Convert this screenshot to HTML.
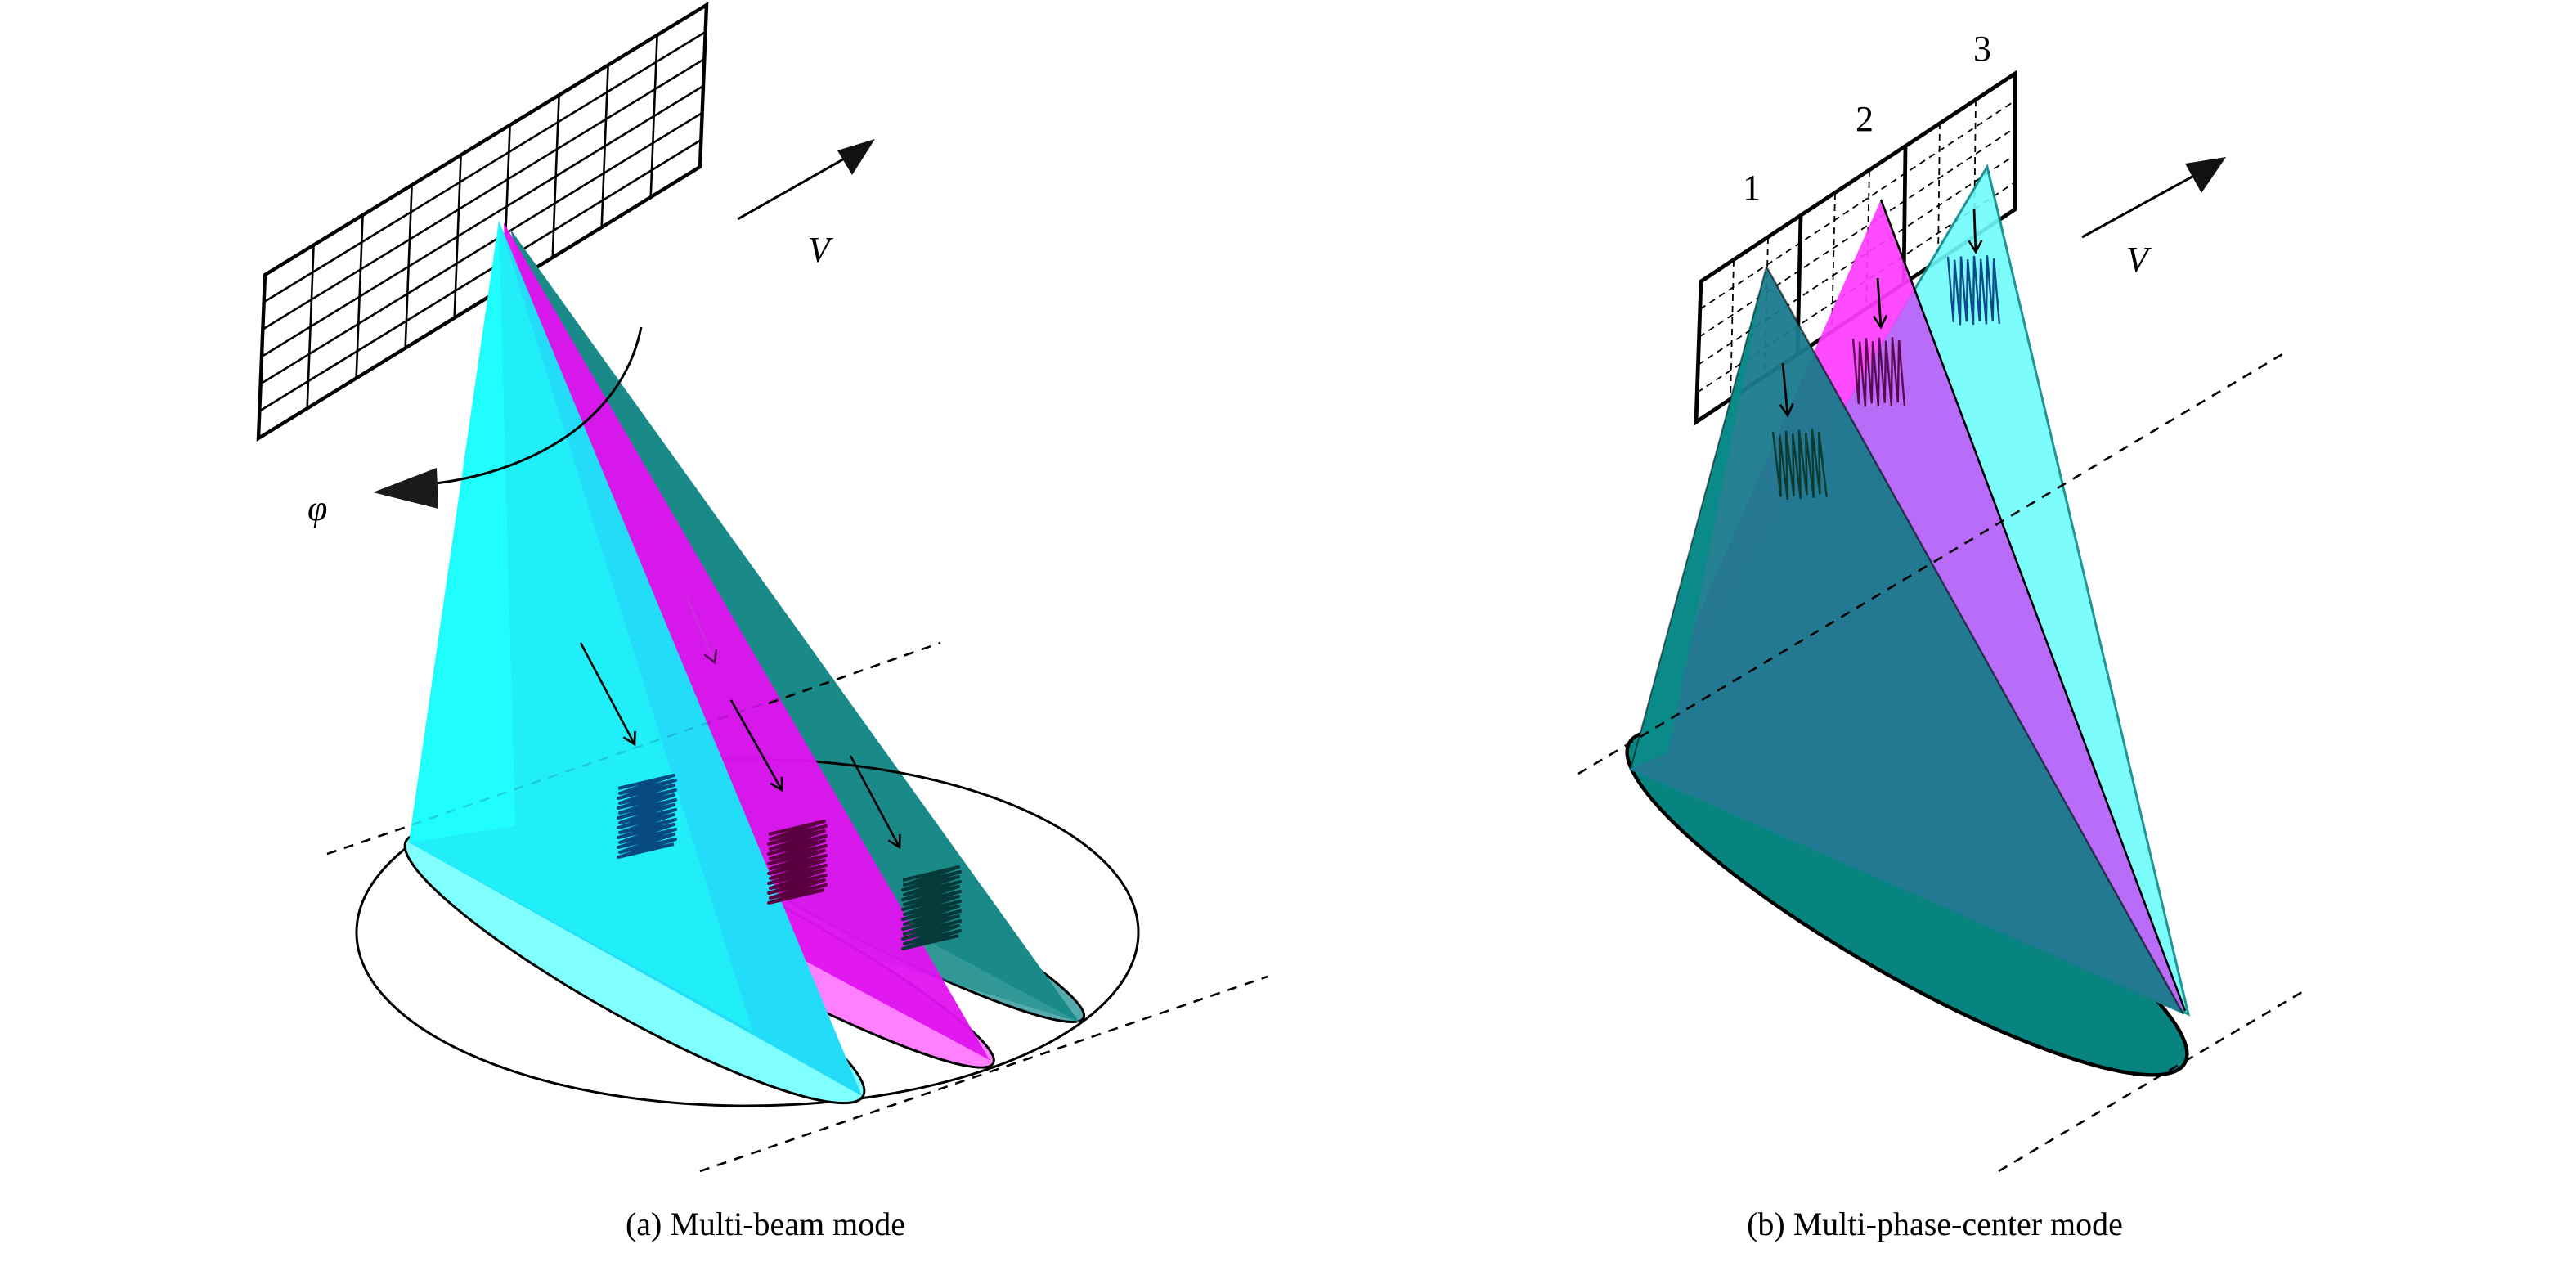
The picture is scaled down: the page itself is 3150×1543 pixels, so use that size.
<!DOCTYPE html>
<html><head><meta charset="utf-8"><style>
html,body{margin:0;padding:0;background:#fff}
svg{display:block}
text{font-family:"Liberation Serif",serif}
</style></head><body>
<svg width="3150" height="1543" viewBox="0 0 1575 771.5" xmlns="http://www.w3.org/2000/svg">
<defs>
<path id="zz" d="M0,0 L34,-8 L1,3 L35,-5 L0,6 L34,-2 L1,9 L35,1 L0,12 L34,4 L1,15 L35,7 L0,18 L34,10 L1,21 L35,13 L0,24 L34,16 L1,27 L35,19 L0,30 L34,22 L1,33 L35,25 L0,36 L34,28 L1,39 L35,31 L0,42 L34,34" fill="none" stroke-width="2" stroke-linejoin="round"/>
<path id="vz" d="M0,0 L2,40 L4,2 L6,42 L8,0 L10,40 L12,2 L14,42 L16,0 L18,40 L20,2 L22,42 L24,0 L26,40 L28,2 L30,42" fill="none" stroke-width="1.2"/>
<marker id="ah" markerWidth="10" markerHeight="10" refX="8" refY="5" orient="auto" markerUnits="userSpaceOnUse"><path d="M1,1 L8,5 L1,9" fill="none" stroke="#000" stroke-width="1.3"/></marker>
<clipPath id="cyc"><polygon points="1215,102 997,470 1338,620"/></clipPath>
</defs>

<!-- LEFT PANEL -->
<g stroke="#000" stroke-width="1.3" fill="none">
<polygon points="162,168 432,3 428,102 158,268" stroke-width="2.2"/>
<line x1="191.8" y1="149.8" x2="187.8" y2="249.8"/>
<line x1="221.8" y1="131.5" x2="217.8" y2="231.5"/>
<line x1="251.8" y1="113.2" x2="247.8" y2="213.2"/>
<line x1="281.8" y1="94.9" x2="277.8" y2="194.9"/>
<line x1="311.8" y1="76.6" x2="307.8" y2="176.6"/>
<line x1="341.8" y1="58.3" x2="337.8" y2="158.3"/>
<line x1="371.8" y1="40" x2="367.8" y2="140"/>
<line x1="401.8" y1="21.7" x2="397.8" y2="121.7"/>
<line x1="161.3" y1="184.7" x2="431.3" y2="19.5"/>
<line x1="160.7" y1="201.3" x2="430.7" y2="36"/>
<line x1="160" y1="218" x2="430" y2="52.5"/>
<line x1="159.3" y1="234.7" x2="429.3" y2="69"/>
<line x1="158.7" y1="251.3" x2="428.7" y2="85.5"/>
</g>

<ellipse cx="526" cy="551" rx="154" ry="21" transform="rotate(27.6 526 551)" fill="#55abab" stroke="#000" stroke-width="1.5"/>
<polygon points="312,140 390,480 660,625" fill="#268f8f"/>
<polygon points="312,140 450,560 660,625" fill="#0e8683" opacity="0.5"/>
<ellipse cx="457" cy="570" rx="239" ry="106" fill="none" stroke="#000" stroke-width="1.5"/>
<ellipse cx="463" cy="572" rx="164" ry="23" transform="rotate(28.4 463 572)" fill="#ff80ff" stroke="#000" stroke-width="1.5"/>
<polygon points="308,136 320,495 605,648" fill="#e012f0" opacity="0.95"/>
<ellipse cx="388" cy="592" rx="160" ry="30" transform="rotate(29.2 388 592)" fill="#80ffff" stroke="#000" stroke-width="1.5"/>
<polygon points="305,135 250,515 527,670" fill="#22dcf8"/>
<polygon points="305,135 250,515 460,630" fill="#1ffcfc" opacity="0.6"/>
<polygon points="305,135 250,515 315,505" fill="#20fdfd"/>
<line x1="200" y1="522" x2="575" y2="393" stroke="#000" stroke-width="1.2" stroke-dasharray="6,5" opacity="0.15"/>
<line x1="428" y1="716" x2="775" y2="597" stroke="#000" stroke-width="1.3" stroke-dasharray="6,5"/>
<line x1="200" y1="522" x2="250" y2="505" stroke="#000" stroke-width="1.3" stroke-dasharray="6,5"/>
<line x1="470" y1="430" x2="575" y2="393" stroke="#000" stroke-width="1.3" stroke-dasharray="6,5"/>

<line x1="420" y1="365" x2="437" y2="405" stroke="#c040d0" stroke-width="1" marker-end="url(#ah)" opacity="0.6"/>
<line x1="355" y1="393" x2="388" y2="455" stroke="#000" stroke-width="1.3" marker-end="url(#ah)"/>
<line x1="447" y1="428" x2="478" y2="483" stroke="#000" stroke-width="1.3" marker-end="url(#ah)"/>
<line x1="520" y1="462" x2="550" y2="518" stroke="#000" stroke-width="1.3" marker-end="url(#ah)"/>
<use href="#zz" transform="translate(378,482)" stroke="#064a80"/>
<use href="#zz" transform="translate(470,510)" stroke="#5a0040"/>
<use href="#zz" transform="translate(552,538)" stroke="#063a38"/>

<line x1="451" y1="134" x2="518" y2="96" stroke="#000" stroke-width="1.5"/>
<polygon points="535,85 512,92 521,107" fill="#111"/>
<text x="494" y="160" font-size="22" font-style="italic">V</text>
<path d="M392,200 C380,260 320,290 262,296" fill="none" stroke="#000" stroke-width="1.5"/>
<polygon points="228,301 267,286 268,311" fill="#1a1a1a"/>
<text x="188" y="318" font-size="22" font-style="italic">φ</text>

<text x="468" y="755" font-size="20" text-anchor="middle">(a) Multi-beam mode</text>

<!-- RIGHT PANEL -->
<polygon points="1040,172 1232,45 1232,128 1037,258" fill="#fff" stroke="none"/>
<g stroke="#000" stroke-width="0.9" stroke-dasharray="4,3" fill="none">
<line x1="1060" y1="159" x2="1058" y2="244"/>
<line x1="1081" y1="145" x2="1079" y2="230"/>
<line x1="1122" y1="118" x2="1120" y2="203"/>
<line x1="1143" y1="104" x2="1141" y2="189"/>
<line x1="1186" y1="75" x2="1185" y2="159"/>
<line x1="1208" y1="61" x2="1207" y2="144"/>
<line x1="1039.4" y1="189" x2="1232" y2="61.6"/>
<line x1="1038.8" y1="206" x2="1232" y2="78.2"/>
<line x1="1038.2" y1="223" x2="1232" y2="94.8"/>
<line x1="1037.6" y1="240" x2="1232" y2="111.4"/>
</g>
<g stroke="#000" stroke-width="2.4" fill="none">
<polygon points="1040,172 1232,45 1232,128 1037,258"/>
<line x1="1101" y1="132" x2="1099" y2="216"/>
<line x1="1165" y1="89" x2="1164" y2="173"/>
</g>
<text x="1071" y="122" font-size="22" text-anchor="middle">1</text>
<text x="1140" y="80" font-size="22" text-anchor="middle">2</text>
<text x="1212" y="37" font-size="22" text-anchor="middle">3</text>

<ellipse cx="1166" cy="552" rx="196" ry="44" transform="rotate(30 1166 552)" fill="#088480" stroke="#000" stroke-width="2.2"/>
<polygon points="1215,102 997,470 1338,620" fill="#70fcfc" opacity="0.9" stroke="#0a8a8a" stroke-width="1.5"/>
<polygon points="1150,122 997,470 1336,618" fill="#ff3cff" opacity="0.92"/>
<polygon points="1150,122 997,470 1336,618" fill="#b86cf8" clip-path="url(#cyc)"/>
<line x1="1150" y1="122" x2="1336" y2="618" stroke="#000" stroke-width="1.3"/>
<polygon points="1080,163 997,470 1335,620" fill="#1a7a8c" opacity="0.95"/>
<polygon points="1080,163 997,470 1020,460" fill="#0a8a88"/>
<line x1="1080" y1="163" x2="1335" y2="620" stroke="#000" stroke-width="1.2" opacity="0.6"/>
<line x1="1080" y1="163" x2="997" y2="470" stroke="#000" stroke-width="1" opacity="0.5"/>

<line x1="965" y1="473" x2="1398" y2="215" stroke="#000" stroke-width="1.3" stroke-dasharray="6,5"/>
<line x1="1222" y1="716" x2="1410" y2="605" stroke="#000" stroke-width="1.3" stroke-dasharray="6,5"/>

<line x1="1090" y1="222" x2="1093" y2="254" stroke="#000" stroke-width="1.4" marker-end="url(#ah)"/>
<line x1="1148" y1="170" x2="1150" y2="200" stroke="#000" stroke-width="1.4" marker-end="url(#ah)"/>
<line x1="1207" y1="128" x2="1208" y2="154" stroke="#000" stroke-width="1.4" marker-end="url(#ah)"/>
<use href="#vz" transform="translate(1084,264) rotate(-4)" stroke="#0a3a30"/>
<use href="#vz" transform="translate(1133,207) rotate(-2)" stroke="#5a0850"/>
<use href="#vz" transform="translate(1191,157) rotate(-2)" stroke="#0b4a88"/>

<line x1="1273" y1="145" x2="1344" y2="106" stroke="#000" stroke-width="1.5"/>
<polygon points="1361,96 1336,100 1346,118" fill="#111"/>
<text x="1300" y="166" font-size="22" font-style="italic">V</text>

<text x="1183" y="755" font-size="20" text-anchor="middle">(b) Multi-phase-center mode</text>
</svg>
</body></html>
